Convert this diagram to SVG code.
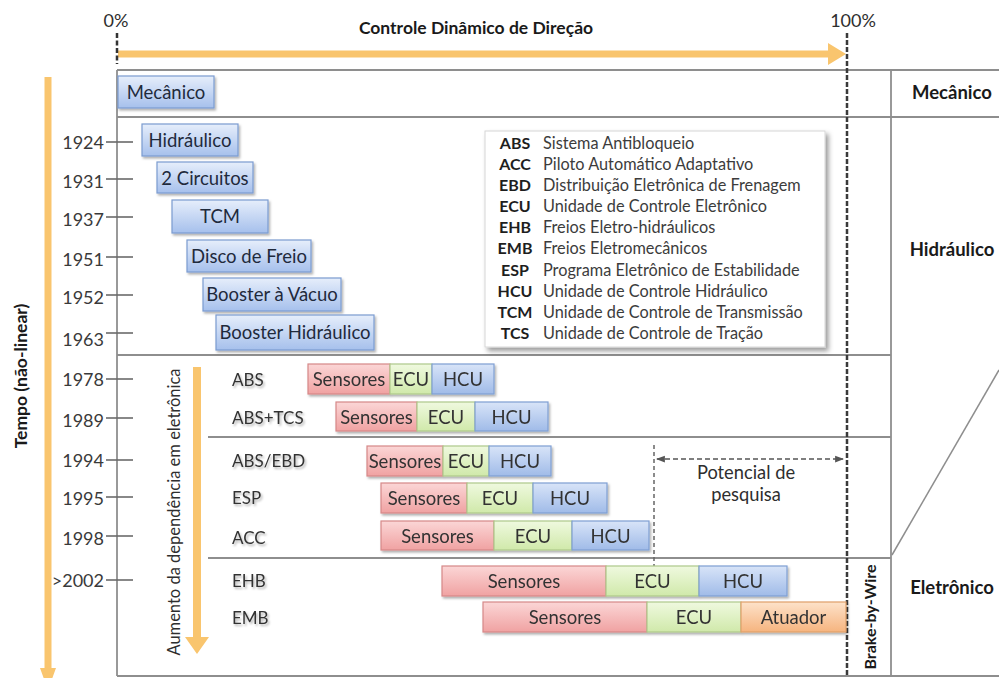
<svg xmlns="http://www.w3.org/2000/svg" width="999" height="678" viewBox="0 0 999 678">
  <defs>
    <style>
      text { font-family: Lato, "Liberation Sans", sans-serif; fill: #2e2e2e; }
      .b { font-weight: bold; fill: #1a1a1a; }
      .lbl { font-size: 18.5px; text-anchor: middle; fill: #1f2a3c; }
      .bar { font-size: 18.5px; text-anchor: middle; fill: #333; }
      .row { font-size: 17px; fill: #333; }
      .yr { font-size: 18px; text-anchor: end; fill: #3a3a3a; }
      .ab { font-size: 16px; font-weight: bold; text-anchor: middle; fill: #1e1e1e; }
      .de { font-size: 16.3px; fill: #3c3c3c; }
      .side { font-size: 18.5px; font-weight: bold; text-anchor: middle; fill: #1a1a1a; }
      .grid { stroke: #8e8e8e; stroke-width: 1.8; fill: none; }
      .tick { stroke: #6a6a6a; stroke-width: 1.6; }
      .blue { fill: url(#gBlue); stroke: #7b9bd0; stroke-width: 1.2; filter: url(#sh); }
      .sen { fill: url(#gRed); stroke: #d68888; stroke-width: 1.2; }
      .ecu { fill: url(#gGreen); stroke: #adc98a; stroke-width: 1.2; }
      .hcu { fill: url(#gHcu); stroke: #7f9fd3; stroke-width: 1.2; }
      .atu { fill: url(#gOrange); stroke: #e0a06a; stroke-width: 1.2; }
      .orange { fill: #f9c56e; }
    </style>
    <linearGradient id="gBlue" x1="0" y1="0" x2="0" y2="1">
      <stop offset="0" stop-color="#e6eefb"/>
      <stop offset="1" stop-color="#a6c0ec"/>
    </linearGradient>
    <linearGradient id="gHcu" x1="0" y1="0" x2="0" y2="1">
      <stop offset="0" stop-color="#d8e4f8"/>
      <stop offset="1" stop-color="#a0bbe8"/>
    </linearGradient>
    <linearGradient id="gRed" x1="0" y1="0" x2="0" y2="1">
      <stop offset="0" stop-color="#fbd6d6"/>
      <stop offset="1" stop-color="#f0a2a2"/>
    </linearGradient>
    <linearGradient id="gGreen" x1="0" y1="0" x2="0" y2="1">
      <stop offset="0" stop-color="#eff9df"/>
      <stop offset="1" stop-color="#d0e9aa"/>
    </linearGradient>
    <linearGradient id="gOrange" x1="0" y1="0" x2="0" y2="1">
      <stop offset="0" stop-color="#fde2ca"/>
      <stop offset="1" stop-color="#f6b47f"/>
    </linearGradient>
    <filter id="sh" x="-10%" y="-20%" width="130%" height="160%">
      <feDropShadow dx="1.5" dy="2" stdDeviation="1.3" flood-color="#000" flood-opacity="0.3"/>
    </filter>
    <filter id="shL" x="-10%" y="-10%" width="125%" height="125%">
      <feDropShadow dx="3" dy="3.5" stdDeviation="2.4" flood-color="#000" flood-opacity="0.4"/>
    </filter>
    <marker id="dArr" viewBox="0 0 8 8" refX="7" refY="4" markerWidth="6" markerHeight="6" orient="auto-start-reverse">
      <path d="M0,1 L8,4 L0,7 Z" fill="#555"/>
    </marker>
  </defs>

  <!-- table grid -->
  <g id="grid" class="grid">
    <line x1="117" y1="70" x2="999" y2="70"/>
    <line x1="117" y1="117" x2="999" y2="117"/>
    <line x1="117" y1="355" x2="891" y2="355"/>
    <line x1="208" y1="437" x2="891" y2="437"/>
    <line x1="208" y1="558" x2="891" y2="558"/>
    <line x1="117" y1="676" x2="999" y2="676"/>
    <line x1="117" y1="70" x2="117" y2="676"/>
    <line x1="891" y1="70" x2="891" y2="676"/>
    <line x1="892" y1="555" x2="999" y2="370" stroke-width="1.5"/>
  </g>

  <!-- axis titles and scale -->
  <g id="axes">
    <text x="116" y="27" font-size="18" text-anchor="middle" fill="#333">0%</text>
    <text x="853" y="27" font-size="18" text-anchor="middle" fill="#333">100%</text>
    <text x="476" y="34" font-size="17.5" class="b" text-anchor="middle">Controle Dinâmico de Direção</text>
    <text transform="translate(27,376) rotate(-90)" font-size="17.5" class="b" text-anchor="middle">Tempo (não-linear)</text>
    <text transform="translate(180,512) rotate(-90)" font-size="16.5" text-anchor="middle" fill="#333">Aumento da dependência em eletrônica</text>
    <text transform="translate(876,617) rotate(-90)" font-size="16" class="b" text-anchor="middle">Brake-by-Wire</text>
  </g>

  <!-- arrows and guide lines -->
  <g id="connectors">
    <path class="orange" d="M118,50.5 H828 V43 L846,54 L828,65 V57.5 H118 Z"/>
    <path class="orange" d="M44.5,77 H51.5 V668 H56 L48,690 L40,668 H44.5 Z"/>
    <path class="orange" d="M193,367 H201 V637 H209 L197,654 L185,637 H193 Z"/>
    <line x1="117" y1="33" x2="117" y2="64" stroke="#333" stroke-width="2.5" stroke-dasharray="5 2.5"/>
    <line x1="847" y1="33" x2="847" y2="676" stroke="#3a3a3a" stroke-width="2.5" stroke-dasharray="5 2"/>
    <line x1="654" y1="445" x2="654" y2="566" stroke="#666" stroke-width="1.5" stroke-dasharray="4 3"/>
    <line x1="657" y1="459" x2="843" y2="459" stroke="#555" stroke-width="1.5" stroke-dasharray="5 3" marker-start="url(#dArr)" marker-end="url(#dArr)"/>
  </g>

  <!-- year scale -->
  <g id="years">
    <g class="tick">
      <line x1="106" y1="142" x2="133" y2="142"/>
      <line x1="106" y1="179" x2="133" y2="179"/>
      <line x1="106" y1="217" x2="133" y2="217"/>
      <line x1="106" y1="257" x2="133" y2="257"/>
      <line x1="106" y1="295" x2="133" y2="295"/>
      <line x1="106" y1="333" x2="133" y2="333"/>
      <line x1="106" y1="379" x2="133" y2="379"/>
      <line x1="106" y1="418" x2="133" y2="418"/>
      <line x1="106" y1="460" x2="133" y2="460"/>
      <line x1="106" y1="497" x2="133" y2="497"/>
      <line x1="106" y1="536" x2="133" y2="536"/>
      <line x1="106" y1="580" x2="133" y2="580"/>
    </g>
    <text class="yr" x="104" y="148.5">1924</text>
    <text class="yr" x="104" y="188">1931</text>
    <text class="yr" x="104" y="226">1937</text>
    <text class="yr" x="104" y="266">1951</text>
    <text class="yr" x="104" y="304">1952</text>
    <text class="yr" x="104" y="346">1963</text>
    <text class="yr" x="104" y="386">1978</text>
    <text class="yr" x="104" y="427">1989</text>
    <text class="yr" x="104" y="467">1994</text>
    <text class="yr" x="104" y="505">1995</text>
    <text class="yr" x="104" y="545">1998</text>
    <text class="yr" x="104" y="587">&gt;2002</text>
  </g>

  <!-- mechanical / hydraulic milestones -->
  <g id="mecanico"><rect class="blue" x="118" y="76" width="96" height="32"/><text class="lbl" x="166" y="98.5">Mecânico</text></g>
  <g id="hidraulico"><rect class="blue" x="142" y="124" width="96" height="32"/><text class="lbl" x="190" y="146.5">Hidráulico</text></g>
  <g id="circuitos"><rect class="blue" x="157" y="162" width="96" height="31"/><text class="lbl" x="205" y="184.5">2 Circuitos</text></g>
  <g id="tcm"><rect class="blue" x="172" y="200" width="96" height="33"/><text class="lbl" x="220" y="223">TCM</text></g>
  <g id="disco"><rect class="blue" x="187" y="240" width="124" height="32"/><text class="lbl" x="249" y="262.5">Disco de Freio</text></g>
  <g id="vacuo"><rect class="blue" x="203" y="278" width="138" height="33"/><text class="lbl" x="272" y="301">Booster à Vácuo</text></g>
  <g id="boosterh"><rect class="blue" x="216" y="315" width="158" height="35"/><text class="lbl" x="295" y="339">Booster Hidráulico</text></g>

  <!-- abbreviation key -->
  <g id="legenda">
    <rect x="485" y="131" width="340" height="216" fill="#fff" stroke="#d6d6d6" stroke-width="1" filter="url(#shL)"/>
    <text class="ab" x="515" y="148.5">ABS</text><text class="de" x="543" y="148.5">Sistema Antibloqueio</text>
    <text class="ab" x="515" y="169.5">ACC</text><text class="de" x="543" y="169.5">Piloto Automático Adaptativo</text>
    <text class="ab" x="515" y="190.5">EBD</text><text class="de" x="543" y="190.5">Distribuição Eletrônica de Frenagem</text>
    <text class="ab" x="515" y="212">ECU</text><text class="de" x="543" y="212">Unidade de Controle Eletrônico</text>
    <text class="ab" x="515" y="233">EHB</text><text class="de" x="543" y="233">Freios Eletro-hidráulicos</text>
    <text class="ab" x="515" y="254">EMB</text><text class="de" x="543" y="254">Freios Eletromecânicos</text>
    <text class="ab" x="515" y="275.5">ESP</text><text class="de" x="543" y="275.5">Programa Eletrônico de Estabilidade</text>
    <text class="ab" x="515" y="296.5">HCU</text><text class="de" x="543" y="296.5">Unidade de Controle Hidráulico</text>
    <text class="ab" x="515" y="317.5">TCM</text><text class="de" x="543" y="317.5">Unidade de Controle de Transmissão</text>
    <text class="ab" x="515" y="338.5">TCS</text><text class="de" x="543" y="338.5">Unidade de Controle de Tração</text>
  </g>

  <!-- electronic systems -->
  <g id="abs" filter="url(#sh)">
    <text class="row" x="232" y="386">ABS</text>
    <rect class="sen" x="308" y="364" width="82" height="30"/><text class="bar" x="349" y="386">Sensores</text>
    <rect class="ecu" x="390" y="364" width="42" height="30"/><text class="bar" x="411" y="386">ECU</text>
    <rect class="hcu" x="432" y="364" width="62" height="30"/><text class="bar" x="463" y="386">HCU</text>
  </g>
  <g id="abstcs" filter="url(#sh)">
    <text class="row" x="232" y="424">ABS+TCS</text>
    <rect class="sen" x="336" y="402" width="81" height="29"/><text class="bar" x="376.5" y="423.5">Sensores</text>
    <rect class="ecu" x="417" y="402" width="58" height="29"/><text class="bar" x="446" y="423.5">ECU</text>
    <rect class="hcu" x="475" y="402" width="73" height="29"/><text class="bar" x="511.5" y="423.5">HCU</text>
  </g>
  <g id="absebd" filter="url(#sh)">
    <text class="row" x="232" y="467">ABS/EBD</text>
    <rect class="sen" x="367" y="446" width="76" height="30"/><text class="bar" x="405" y="468">Sensores</text>
    <rect class="ecu" x="443" y="446" width="46" height="30"/><text class="bar" x="466" y="468">ECU</text>
    <rect class="hcu" x="489" y="446" width="62" height="30"/><text class="bar" x="520" y="468">HCU</text>
  </g>
  <g id="esp" filter="url(#sh)">
    <text class="row" x="232" y="504">ESP</text>
    <rect class="sen" x="381" y="483" width="86" height="30"/><text class="bar" x="424" y="505">Sensores</text>
    <rect class="ecu" x="467" y="483" width="66" height="30"/><text class="bar" x="500" y="505">ECU</text>
    <rect class="hcu" x="533" y="483" width="74" height="30"/><text class="bar" x="570" y="505">HCU</text>
  </g>
  <g id="acc" filter="url(#sh)">
    <text class="row" x="232" y="544">ACC</text>
    <rect class="sen" x="381" y="521" width="113" height="29"/><text class="bar" x="437.5" y="542.5">Sensores</text>
    <rect class="ecu" x="494" y="521" width="78" height="29"/><text class="bar" x="533" y="542.5">ECU</text>
    <rect class="hcu" x="572" y="521" width="77" height="29"/><text class="bar" x="610.5" y="542.5">HCU</text>
  </g>
  <g id="potencial">
    <text x="746" y="479" font-size="18.3" text-anchor="middle" fill="#333">Potencial de</text>
    <text x="746" y="501" font-size="18.3" text-anchor="middle" fill="#333">pesquisa</text>
  </g>
  <g id="ehb" filter="url(#sh)">
    <text class="row" x="232" y="587">EHB</text>
    <rect class="sen" x="442" y="566" width="164" height="30"/><text class="bar" x="524" y="588">Sensores</text>
    <rect class="ecu" x="606" y="566" width="93" height="30"/><text class="bar" x="652.5" y="588">ECU</text>
    <rect class="hcu" x="699" y="566" width="88" height="30"/><text class="bar" x="743" y="588">HCU</text>
  </g>
  <g id="emb" filter="url(#sh)">
    <text class="row" x="232" y="624">EMB</text>
    <rect class="sen" x="483" y="602" width="164" height="30"/><text class="bar" x="565" y="624">Sensores</text>
    <rect class="ecu" x="647" y="602" width="94" height="30"/><text class="bar" x="694" y="624">ECU</text>
    <rect class="atu" x="741" y="602" width="105" height="30"/><text class="bar" x="793.5" y="624">Atuador</text>
  </g>

  <!-- era column -->
  <g id="eras">
    <text class="side" x="952" y="99">Mecânico</text>
    <text class="side" x="952" y="256">Hidráulico</text>
    <text class="side" x="952" y="594">Eletrônico</text>
  </g>
</svg>
